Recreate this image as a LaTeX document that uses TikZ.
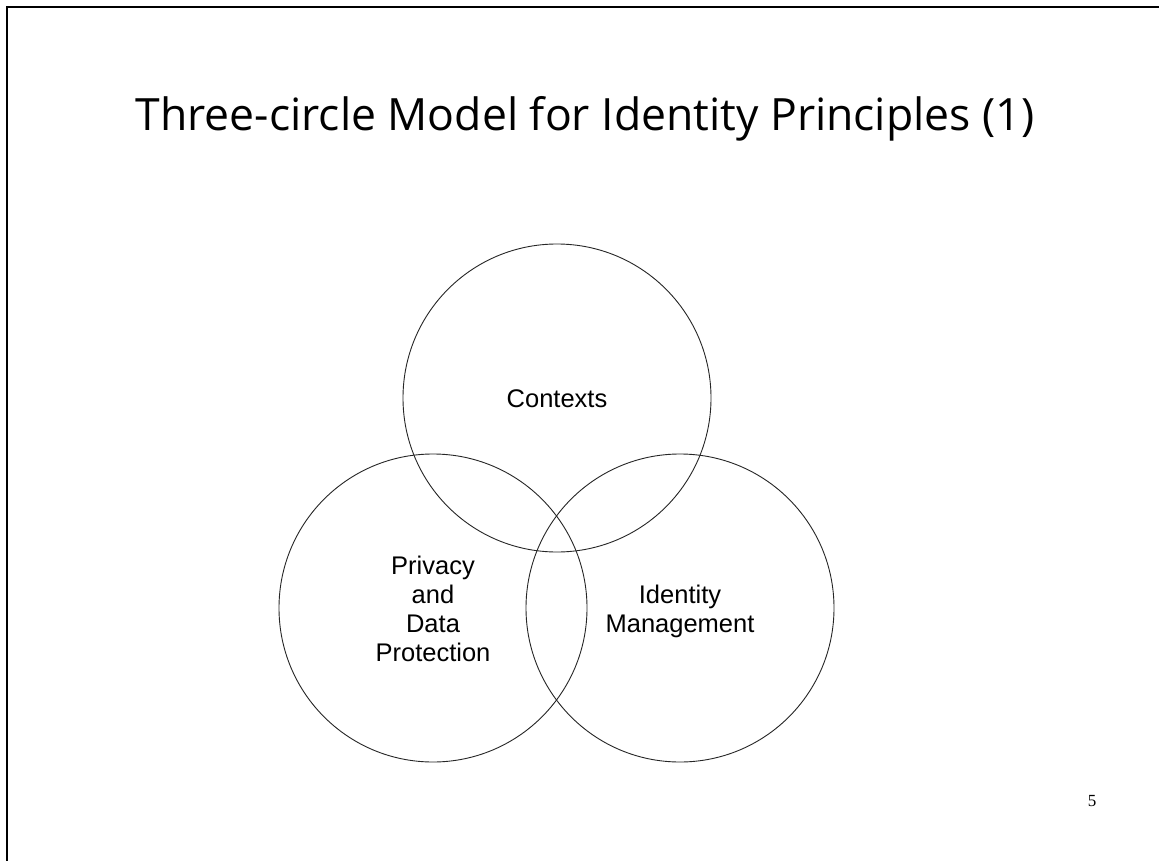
\documentclass[tikz,border=0pt]{standalone}
\usepackage{fontspec}
\setmainfont{Liberation Sans}
\newfontfamily\titlefont{Open Sans}
\newfontfamily\pagefont{Liberation Serif}
\begin{document}
\begin{tikzpicture}[x=1pt,y=-1pt,
  ring/.style={draw=black!85,line width=0.9pt},
  label/.style={align=center,font=\fontsize{25.5}{29}\selectfont,inner sep=0pt},
  frame/.style={draw=black,line width=1.2pt}]
\useasboundingbox (0,0) rectangle (1159,861);
\fill[white] (0,0) rectangle (1159,861);
% slide frame (top and left edges)
\draw[frame] (7,861) -- (7,7) -- (1159,7);
% title
\node[anchor=base,inner sep=0pt,font=\titlefont\fontsize{44.5}{50}\selectfont] (title) at (585,131) {Three-circle Model for Identity Principles (1)};
% three overlapping circles
\node[ring,circle,minimum size=308pt,inner sep=0pt] (ctx) at (557,398) {};
\node[ring,circle,minimum size=308pt,inner sep=0pt] (priv) at (433,608) {};
\node[ring,circle,minimum size=308pt,inner sep=0pt] (idm) at (680,608) {};
% circle labels (base anchor sits on the last line)
\node[label,anchor=base] (ctxl) at (557,407) {Contexts};
\node[label,anchor=base] (privl) at (433,661) {Privacy\\and\\Data\\Protection};
\node[label,anchor=base] (idml) at (680,632) {Identity\\Management};
% page number
\node[anchor=base,inner sep=0pt,font=\pagefont\fontsize{17}{20}\selectfont] (pg) at (1092,806) {5};
\end{tikzpicture}
\end{document}
